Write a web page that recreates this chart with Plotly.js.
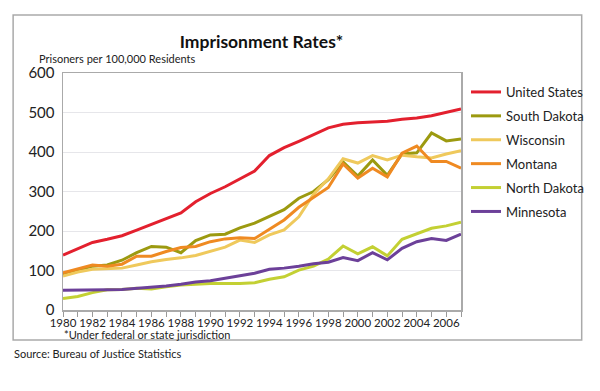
<!DOCTYPE html>
<html>
<head>
<meta charset="utf-8">
<script src="https://cdn.plot.ly/plotly-3.0.1.min.js"></script>
<style>
html,body{margin:0;padding:0;background:#fff;}
#chart{width:600px;height:391px;}
</style>
</head>
<body>
<div id="chart"></div>
<script>
const years = [1980,1981,1982,1983,1984,1985,1986,1987,1988,1989,1990,1991,1992,1993,1994,1995,1996,1997,1998,1999,2000,2001,2002,2003,2004,2005,2006,2007];
const unitedStates = [139,154,171,179,188,202,217,231,246,274,295,312,331,352,391,411,427,444,461,470,474,476,478,483,486,492,501,509];
const southDakota  = [90,100,111,114,126,145,161,159,145,176,190,192,208,220,237,254,283,300,330,375,339,380,341,395,398,448,428,433];
const wisconsin    = [86,96,103,104,106,114,122,128,132,138,148,159,177,171,190,203,236,293,332,383,372,391,380,392,388,385,395,403];
const montana      = [94,104,114,111,116,136,136,148,158,161,173,180,183,181,204,228,260,284,310,370,334,359,337,397,415,376,376,359];
const northDakota  = [29,34,44,51,52,55,53,59,63,65,67,67,67,69,78,84,101,111,129,162,142,160,137,179,194,207,213,222];
const minnesota    = [50,50,50,51,52,55,57,61,65,71,74,80,86,93,103,106,111,117,121,133,125,145,127,156,173,181,176,192];

const seriesNames  = ['United States','South Dakota','Wisconsin','Montana','North Dakota','Minnesota'];
const seriesValues = [unitedStates,southDakota,wisconsin,montana,northDakota,minnesota];
const seriesColors = ['#e3202e','#9c9a10','#efc95c','#ef8a22','#c3d033','#6c4099'];

const yTicks = [0,100,200,300,400,500,600];
const xTickVals = years;
const xTickText = years.map(y => (y % 2 === 0 && y <= 2006) ? String(y) : '');

const traces = seriesNames.map((n,i) => ({
  x: years, y: seriesValues[i], name: n, type: 'scatter', mode: 'lines',
  line: {color: seriesColors[i], width: 3},
  legendgroup: 'g'+i
}));

// plot area in px: x 63..462, y 73..310
const L=63, R=462, T=73, B=310;
const px = v => (v - L)/(R - L);
const py = v => (B - v)/(B - T);

const FONT = 'Lato, "Open Sans", sans-serif';

const layout = {
  width: 600, height: 391,
  margin: {l: L, r: 600-R, t: T, b: 391-B, pad: 0},
  paper_bgcolor: '#fff', plot_bgcolor: '#fff',
  font: {family: FONT, color: '#222'},
  showlegend: true,
  legend: {
    x: px(466), y: py(77), xanchor: 'left', yanchor: 'top',
    font: {size: 13, family: FONT, color: '#222'},
    tracegroupgap: 4, bgcolor: 'rgba(0,0,0,0)'
  },
  title: {
    text: '<b>Imprisonment Rates*</b>',
    font: {size: 17.5, family: FONT, color: '#111'},
    x: px(262), xref: 'paper', xanchor: 'center',
    y: 1 - 42/391, yref: 'container', yanchor: 'middle'
  },
  xaxis: {
    range: [1980, 2007], tickmode: 'array', tickvals: xTickVals, ticktext: xTickText,
    tickangle: 0,
    ticks: 'outside', ticklen: 5, tickcolor: '#999', tickwidth: 1,
    showline: true, linecolor: '#aaa', linewidth: 1.5, mirror: true,
    showgrid: false, zeroline: false, ticklabelstandoff: -3,
    tickfont: {size: 11.5, family: FONT, color: '#222'}
  },
  yaxis: {
    range: [0, 600], tickmode: 'array', tickvals: yTicks,
    ticks: '', showline: true, linecolor: '#aaa', linewidth: 1.5, mirror: true,
    showgrid: true, gridcolor: '#e6e6ea', gridwidth: 1, zeroline: false,
    tickfont: {size: 15, family: FONT, color: '#222'}, ticklabelstandoff: 4
  },
  shapes: [
    {type: 'rect', xref: 'paper', yref: 'paper',
     x0: px(13), x1: px(583), y0: py(340), y1: py(15),
     line: {color: '#aaa', width: 1.5}, fillcolor: 'rgba(0,0,0,0)', layer: 'below'}
  ],
  annotations: [
    {text: 'Prisoners per 100,000 Residents', xref: 'paper', yref: 'paper',
     x: px(37), y: py(58), xanchor: 'left', yanchor: 'middle', showarrow: false,
     font: {size: 11, family: FONT, color: '#222'}},
    {text: '*Under federal or state jurisdiction', xref: 'paper', yref: 'paper',
     x: px(62), y: py(334), xanchor: 'left', yanchor: 'middle', showarrow: false,
     font: {size: 11, family: FONT, color: '#222'}},
    {text: 'Source: Bureau of Justice Statistics', xref: 'paper', yref: 'paper',
     x: px(12), y: py(353), xanchor: 'left', yanchor: 'middle', showarrow: false,
     font: {size: 11, family: FONT, color: '#222'}}
  ]
};

Plotly.newPlot('chart', traces, layout, {displayModeBar: false, staticPlot: true});
</script>
</body>
</html>
